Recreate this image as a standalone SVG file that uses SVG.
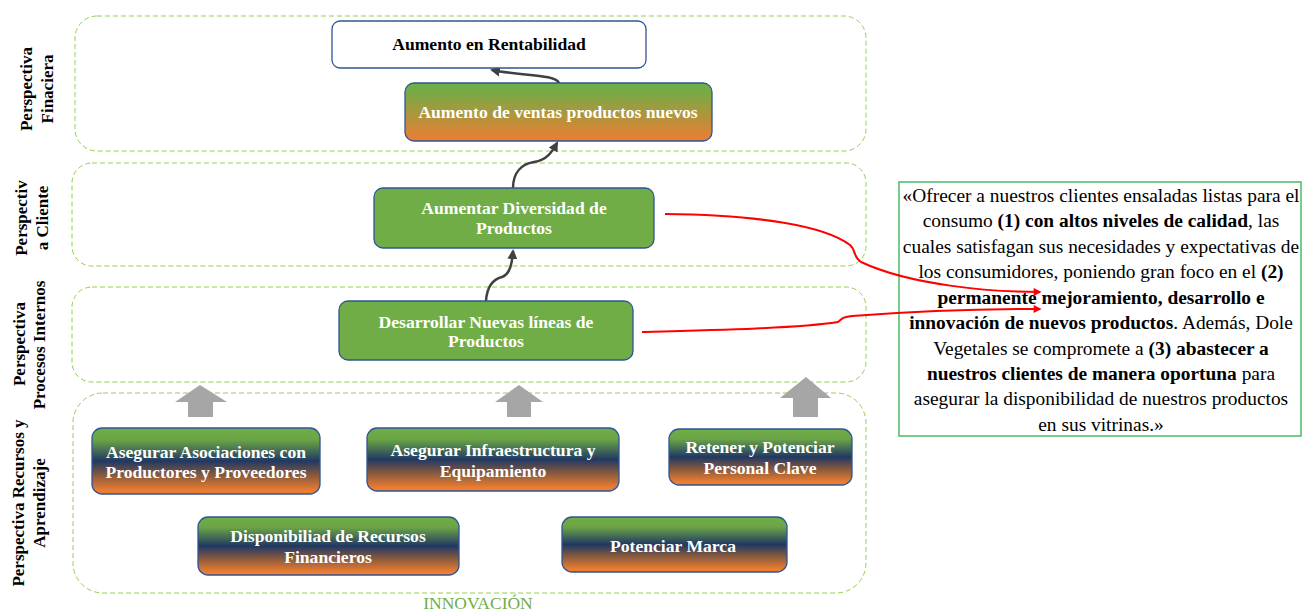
<svg xmlns="http://www.w3.org/2000/svg" width="1302" height="612" viewBox="0 0 1302 612">
  <style>
    .lane { fill: none; stroke: #92D050; stroke-width: 1; stroke-dasharray: 5 3; }
    .side { font-family: "Liberation Serif", "Times New Roman", serif; font-weight: bold; font-size: 17px; fill: #000; text-anchor: middle; }
    .box { stroke: #2F5597; stroke-width: 1.3; }
    .nt { font-family: "Liberation Serif", "Times New Roman", serif; font-weight: bold; font-size: 17.6px; fill: #fff; text-anchor: middle; }
    .dk { fill: none; stroke: #404040; stroke-width: 2.5; }
    .rd { fill: none; stroke: #FF0000; stroke-width: 2; }
    .blk { fill: #A6A6A6; }
    .qt { font-family: "Liberation Serif", "Times New Roman", serif; font-size: 19.4px; fill: #000; text-anchor: middle; }
    .qt tspan.b { font-weight: bold; }
  </style>
  <defs>
    <linearGradient id="gGO" x1="0" y1="0" x2="0" y2="1">
      <stop offset="0.1" stop-color="#70AD47"/>
      <stop offset="1" stop-color="#ED7D31"/>
    </linearGradient>
    <linearGradient id="gGBO" x1="0" y1="0" x2="0" y2="1">
      <stop offset="0" stop-color="#70AD47"/>
      <stop offset="0.18" stop-color="#6BA446"/>
      <stop offset="0.5" stop-color="#203864"/>
      <stop offset="0.72" stop-color="#8A5A3C"/>
      <stop offset="0.95" stop-color="#ED7D31"/>
    </linearGradient>
    <marker id="mDk" viewBox="0 0 10 10" refX="8" refY="5" markerWidth="4" markerHeight="4" orient="auto">
      <path d="M0,0 L10,5 L0,10 z" fill="#404040"/>
    </marker>
    <marker id="mRd" viewBox="0 0 10 10" refX="8" refY="5" markerWidth="5" markerHeight="4" orient="auto">
      <path d="M0,0 L10,5 L0,10 z" fill="#FF0000"/>
    </marker>
  </defs>

  <rect width="1302" height="612" fill="#fff"/>

  <!-- perspective lanes -->
  <g id="lanes">
    <rect class="lane" x="75" y="16" width="791" height="135" rx="22"/>
    <rect class="lane" x="72" y="163" width="794" height="103" rx="20"/>
    <rect class="lane" x="72" y="287" width="794" height="95" rx="20"/>
    <rect class="lane" x="73" y="393" width="793" height="200" rx="30"/>
  </g>

  <!-- lane titles -->
  <g id="lane-titles">
    <text class="side" transform="translate(27,89) rotate(-90)" dy="5">Perspectiva</text>
    <text class="side" transform="translate(48,89) rotate(-90)" dy="5">Finaciera</text>
    <text class="side" transform="translate(22,218) rotate(-90)" dy="5">Perspectiv</text>
    <text class="side" transform="translate(43,218) rotate(-90)" dy="5">a Cliente</text>
    <text class="side" transform="translate(20,344) rotate(-90)" dy="5">Perspectiva</text>
    <text class="side" transform="translate(40,345) rotate(-90)" dy="5">Procesos Internos</text>
    <text class="side" transform="translate(19,503) rotate(-90)" dy="5">Perspectiva Recursos y</text>
    <text class="side" transform="translate(40,503) rotate(-90)" dy="5">Aprendizaje</text>
  </g>

  <text x="478" y="609" font-family="Liberation Serif, Times New Roman, serif" font-size="17.5" fill="#70AD47" text-anchor="middle">INNOVACIÓN</text>

  <!-- mission statement -->
  <g id="n-mision">
    <rect x="899" y="182" width="402" height="254" fill="#fff" stroke="#2EB04F" stroke-width="1.3"/>
    <text class="qt" x="1101" y="202">«Ofrecer a nuestros clientes ensaladas listas para el</text>
    <text class="qt" x="1101" y="227">consumo <tspan class="b">(1) con altos niveles de calidad</tspan>, las</text>
    <text class="qt" x="1101" y="253">cuales satisfagan sus necesidades y expectativas de</text>
    <text class="qt" x="1101" y="278">los consumidores, poniendo gran foco en el <tspan class="b">(2)</tspan></text>
    <text class="qt" x="1101" y="304"><tspan class="b">permanente mejoramiento, desarrollo e</tspan></text>
    <text class="qt" x="1101" y="329"><tspan class="b">innovación de nuevos productos</tspan>. Además, Dole</text>
    <text class="qt" x="1101" y="355">Vegetales se compromete a <tspan class="b">(3) abastecer a</tspan></text>
    <text class="qt" x="1101" y="380"><tspan class="b">nuestros clientes de manera oportuna</tspan> para</text>
    <text class="qt" x="1101" y="405">asegurar la disponibilidad de nuestros productos</text>
    <text class="qt" x="1101" y="431">en sus vitrinas.»</text>
  </g>

  <!-- connectors -->
  <g id="connectors">
    <path class="dk" d="M559,83 C556,74 520,76 492,70" marker-end="url(#mDk)"/>
    <path class="dk" d="M513,188 C513,172 522,164 534,162 C547,160 552,152 557,143" marker-end="url(#mDk)"/>
    <path class="dk" d="M486,301 C487,286 494,279 502,277 C510,274 512,264 513,251" marker-end="url(#mDk)"/>
    <path class="rd" d="M665,214 C760,215 825,226 850,245 C856,250 853,257 861,262 C910,285 990,292 1040,292" marker-end="url(#mRd)"/>
    <path class="rd" d="M642,332 C720,330 800,328 838,322 C842,319 842,317 852,316 C920,311 990,309 1040,309" marker-end="url(#mRd)"/>
    <path class="blk" d="M200,385 L227,402 L213,402 L213,417 L188,417 L188,402 L175,402 z"/>
    <path class="blk" d="M519,385 L543,402 L531,402 L531,417 L507,417 L507,402 L495,402 z"/>
    <path class="blk" d="M806,377 L831,398 L818,398 L818,417 L793,417 L793,398 L780,398 z"/>
  </g>

  <!-- nodes -->
  <g id="n-rentabilidad">
    <rect class="box" x="332" y="21" width="314" height="47" rx="8" fill="#fff"/>
    <text class="nt" x="489" y="50" style="fill:#000">Aumento en Rentabilidad</text>
  </g>
  <g id="n-ventas">
    <rect class="box" x="405" y="83" width="307" height="58" rx="9" fill="url(#gGO)"/>
    <text class="nt" x="558" y="118">Aumento de ventas productos nuevos</text>
  </g>
  <g id="n-diversidad">
    <rect class="box" x="374" y="188" width="280" height="60" rx="9" fill="#70AD47"/>
    <text class="nt" x="514" y="214">Aumentar Diversidad de</text>
    <text class="nt" x="514" y="234">Productos</text>
  </g>
  <g id="n-desarrollar">
    <rect class="box" x="339" y="301" width="294" height="59" rx="9" fill="#70AD47"/>
    <text class="nt" x="486" y="328">Desarrollar Nuevas líneas de</text>
    <text class="nt" x="486" y="347">Productos</text>
  </g>
  <g id="n-asociaciones">
    <rect class="box" x="92" y="428" width="228" height="66" rx="10" fill="url(#gGBO)"/>
    <text class="nt" x="206" y="458">Asegurar Asociaciones con</text>
    <text class="nt" x="206" y="478">Productores y Proveedores</text>
  </g>
  <g id="n-infraestructura">
    <rect class="box" x="367" y="428" width="252" height="63" rx="10" fill="url(#gGBO)"/>
    <text class="nt" x="493" y="456">Asegurar Infraestructura y</text>
    <text class="nt" x="493" y="477">Equipamiento</text>
  </g>
  <g id="n-personal">
    <rect class="box" x="669" y="429" width="183" height="56" rx="10" fill="url(#gGBO)"/>
    <text class="nt" x="760" y="453">Retener y Potenciar</text>
    <text class="nt" x="760" y="474">Personal Clave</text>
  </g>
  <g id="n-recursos">
    <rect class="box" x="198" y="517" width="261" height="58" rx="10" fill="url(#gGBO)"/>
    <text class="nt" x="328" y="542">Disponibiliad de Recursos</text>
    <text class="nt" x="328" y="563">Financieros</text>
  </g>
  <g id="n-marca">
    <rect class="box" x="562" y="517" width="225" height="55" rx="10" fill="url(#gGBO)"/>
    <text class="nt" x="673" y="552">Potenciar Marca</text>
  </g>
</svg>
